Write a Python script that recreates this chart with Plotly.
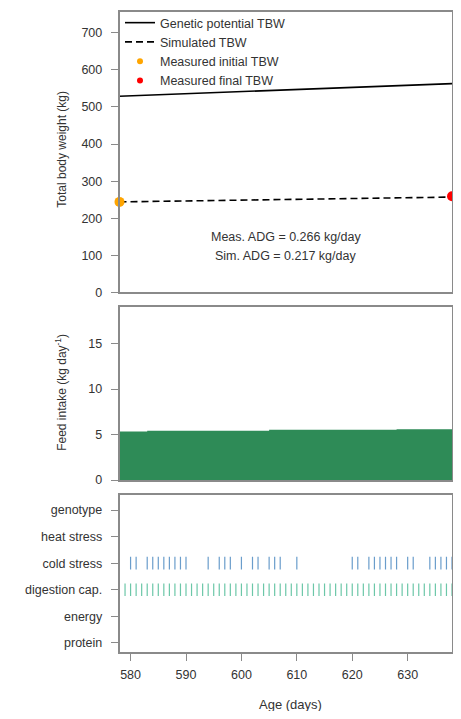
import plotly.graph_objects as go

# ---------------- data ----------------
tbw_days = [578, 608, 638]
genetic_tbw = [529, 547, 563]
simulated_tbw = [244, 251, 257]
meas_initial_day = [578]
meas_initial_tbw = [244]
meas_final_day = [638]
meas_final_tbw = [259]

feed_days = [578, 583, 605, 628, 638]
feed_intake = [5.33, 5.41, 5.52, 5.58, 5.58]

limit_categories = ["protein", "energy", "digestion cap.", "cold stress", "heat stress", "genotype"]
cold_stress_days = [580, 581, 583, 584, 585, 586, 587, 588, 589, 590,
                    594, 596, 597, 598, 600, 602, 603, 605, 606, 607, 610,
                    620, 621, 623, 624, 625, 626, 627, 628, 630, 631,
                    634, 635, 636, 637, 638]
digestion_days = list(range(579, 639))

x_ticks = [580, 590, 600, 610, 620, 630]

# ---------------- figure ----------------
OFF = 8  # page body margin
W, H = 461 - 2 * OFF, 719 - 2 * OFF
def px_x(p):
    return (p - OFF) / W
def px_y(p):
    return 1 - (p - OFF) / H

FONT = "Liberation Sans, Arial"
TXT = "#333333"

fig = go.Figure()

fig.add_trace(go.Scatter(x=tbw_days, y=genetic_tbw, mode="lines", name="Genetic potential TBW",
                         line=dict(color="black", width=1.6), xaxis="x", yaxis="y"))
fig.add_trace(go.Scatter(x=tbw_days, y=simulated_tbw, mode="lines", name="Simulated TBW",
                         line=dict(color="black", width=1.6, dash="7px,4px"), xaxis="x", yaxis="y"))
# legend entries (small symbols, as in the reference key)
fig.add_trace(go.Scatter(x=[None], y=[None], mode="markers", name="Measured initial TBW",
                         marker=dict(color="#FFA500", size=6), xaxis="x", yaxis="y"))
fig.add_trace(go.Scatter(x=[None], y=[None], mode="markers", name="Measured final TBW",
                         marker=dict(color="#FF0000", size=6), xaxis="x", yaxis="y"))
# measured points
fig.add_trace(go.Scatter(x=meas_initial_day, y=meas_initial_tbw, mode="markers", name="Measured initial TBW",
                         marker=dict(color="#FFA500", size=10), cliponaxis=False, showlegend=False,
                         xaxis="x", yaxis="y"))
fig.add_trace(go.Scatter(x=meas_final_day, y=meas_final_tbw, mode="markers", name="Measured final TBW",
                         marker=dict(color="#FF0000", size=10), cliponaxis=False, showlegend=False,
                         xaxis="x", yaxis="y"))

fig.add_trace(go.Scatter(x=feed_days, y=feed_intake, mode="lines", line=dict(width=0, shape="hv"),
                         fill="tozeroy", fillcolor="#2E8B57", showlegend=False, xaxis="x2", yaxis="y2"))

fig.add_trace(go.Scatter(x=cold_stress_days, y=["cold stress"] * len(cold_stress_days), mode="markers",
                         marker=dict(symbol="line-ns", size=9, line=dict(color="#6A9DCB", width=1.2)),
                         showlegend=False, xaxis="x3", yaxis="y3"))
fig.add_trace(go.Scatter(x=digestion_days, y=["digestion cap."] * len(digestion_days), mode="markers",
                         marker=dict(symbol="line-ns", size=9, line=dict(color="#6CC7A8", width=1.2)),
                         showlegend=False, xaxis="x3", yaxis="y3"))

tick_font = dict(family=FONT, size=12.5, color=TXT)
frame = dict(showline=True, mirror=True, linecolor="#8a8a8a", linewidth=1.5,
             showgrid=False, zeroline=False, tickfont=tick_font, automargin=False)
ticked = dict(ticks="outside", ticklen=7, tickcolor="#8a8a8a", tickwidth=1.3, **frame)

xdom = [px_x(119.5), px_x(452)]
fig.update_layout(
    width=W, height=H,
    margin=dict(l=0, r=0, t=0, b=0),
    paper_bgcolor="white", plot_bgcolor="white",
    showlegend=True,
    legend=dict(x=px_x(120), y=px_y(4), xanchor="left", yanchor="top",
                bgcolor="rgba(0,0,0,0)", font=dict(family=FONT, size=12.5, color=TXT),
                itemwidth=30, tracegroupgap=0),
    xaxis=dict(domain=xdom, range=[578, 638], anchor="y", showticklabels=False, ticks="", **frame),
    yaxis=dict(domain=[px_y(290), 1], range=[0, 756], anchor="x",
               tickvals=[0, 100, 200, 300, 400, 500, 600, 700], ticklabelstandoff=6, **ticked),
    xaxis2=dict(domain=xdom, range=[578, 638], anchor="y2", showticklabels=False, ticks="", **frame),
    yaxis2=dict(domain=[px_y(478.7), px_y(305)], range=[0, 19], anchor="x2",
                tickvals=[0, 5, 10, 15], ticklabelstandoff=6, **ticked),
    xaxis3=dict(domain=xdom, range=[578, 638], anchor="y3", tickvals=x_ticks, ticklabelstandoff=3, **ticked),
    yaxis3=dict(domain=[px_y(652), px_y(494)], type="category", categoryarray=limit_categories,
                categoryorder="array", range=[-0.36, 5.56], anchor="x3", ticklabelstandoff=6, **ticked),
    annotations=[
        dict(text="Meas. ADG = 0.266 kg/day", x=608, y=150, xref="x", yref="y", showarrow=False,
             font=dict(family=FONT, size=12.5, color=TXT)),
        dict(text="Sim. ADG = 0.217 kg/day", x=608, y=99, xref="x", yref="y", showarrow=False,
             font=dict(family=FONT, size=12.5, color=TXT)),
        dict(text="Total body weight (kg)", x=px_x(62), y=px_y(146.5), xref="paper", yref="paper",
             textangle=-90, showarrow=False, xanchor="center", yanchor="middle",
             font=dict(family=FONT, size=12, color=TXT)),
        dict(text="Feed intake (kg day<sup>-1</sup>)", x=px_x(61), y=px_y(391), xref="paper", yref="paper",
             textangle=-90, showarrow=False, xanchor="center", yanchor="middle",
             font=dict(family=FONT, size=12, color=TXT)),
        dict(text="Age (days)", x=px_x(290), y=px_y(704), xref="paper", yref="paper",
             showarrow=False, xanchor="center", yanchor="middle",
             font=dict(family=FONT, size=13, color=TXT)),
    ],
)

fig.write_html("out.html")
